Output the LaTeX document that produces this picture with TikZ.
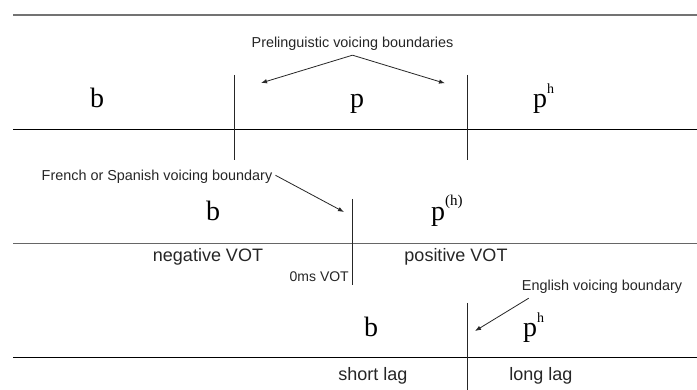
\documentclass[tikz,border=0pt]{standalone}
\usepackage{fontspec}
\setmainfont{Liberation Serif}
\setsansfont{Liberation Sans}
\usetikzlibrary{arrows.meta}
\newcommand\mysup[1]{\raisebox{14pt}{\fontsize{14}{14}\selectfont #1}}
\begin{document}
\begin{tikzpicture}[x=1pt,y=-1pt,
  topline/.style={line width=2pt,black!55},
  hline/.style={line width=1.2pt,black},
  midline/.style={line width=1.3pt,black!60},
  vline/.style={line width=1.1pt,black!85},
  arr/.style={line width=0.8pt,black!85,-{Latex[length=6pt,width=4.5pt]}},
  letter/.style={font=\fontsize{28}{28}\selectfont,inner sep=0pt,anchor=base},
  ann/.style={font=\sffamily\fontsize{14.4}{16}\selectfont,inner sep=0pt,text=black!85,anchor=base},
  lab/.style={font=\sffamily\fontsize{18}{20}\selectfont,inner sep=0pt,text=black!85,anchor=base}]
\useasboundingbox (0,0) rectangle (697,390);
\fill[white] (0,0) rectangle (697,390);

% horizontal lines
\draw[topline] (13,14.7) -- (697,14.7);
\draw[hline] (13,129.3) -- (697,129.3);
\draw[midline] (13,243.7) -- (697,243.7);
\draw[hline] (13,357.8) -- (697,357.8);

% vertical boundaries
\draw[vline] (234.7,75) -- (234.7,160);
\draw[vline] (467.7,75) -- (467.7,160);
\draw[vline] (352.7,199) -- (352.7,285);
\draw[vline] (467.3,303) -- (467.3,390);

% row 1
\node[ann] (title) at (352.5,48) {Prelinguistic voicing boundaries};
\coordinate (tipL) at (261,83);
\coordinate (tipR) at (445,83.3);
\draw[arr] ([yshift=-4pt]title.south) -- (tipL);
\draw[arr] ([yshift=-4pt]title.south) -- (tipR);
\node[letter] (b1) at (97,107.5) {b};
\node[letter] (p1) at (357,107.5) {p};
\node[letter,anchor=base west] (ph1) at (533,107.5) {p\mysup{h}};

% row 2
\node[ann] (french) at (157,181) {French or Spanish voicing boundary};
\coordinate (tipF) at (344,212);
\draw[arr] ([xshift=3pt,yshift=2pt]french.east) -- (tipF);
\node[letter] (b2) at (213,221) {b};
\node[letter,anchor=base west] (ph2) at (431,221) {p\raisebox{15pt}{\fontsize{15}{15}\selectfont (h)}};
\node[lab] (neg) at (208,262) {negative VOT};
\node[lab] (pos) at (456,262) {positive VOT};
\node[ann,font=\sffamily\fontsize{14}{15}\selectfont,anchor=base east] (zero) at (349,282) {0ms VOT};

% row 3
\node[ann] (english) at (602,291) {English voicing boundary};
\coordinate (tipE) at (475,331);
\draw[arr] ([xshift=7pt,yshift=-4pt]english.south west) -- (tipE);
\node[letter] (b3) at (371,337) {b};
\node[letter,anchor=base west] (ph3) at (523,337) {p\mysup{h}};
\node[lab] (short) at (373,381) {short lag};
\node[lab] (long) at (541,381) {long lag};
\end{tikzpicture}
\end{document}
